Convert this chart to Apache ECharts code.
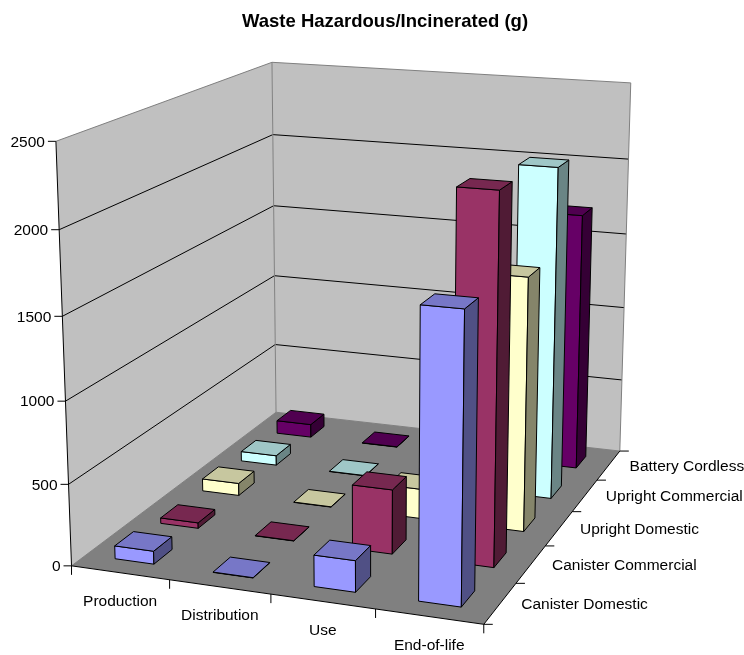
<!DOCTYPE html>
<html><head><meta charset="utf-8">
<style>html,body{margin:0;padding:0;background:#fff}#c{width:744px;height:655px}</style>
<script src="https://cdn.jsdelivr.net/npm/echarts@6/dist/echarts.min.js"></script>
</head><body><div id="c"></div>
<script>
const stages = ['Production','Distribution','Use','End-of-life'];
const products = ['Canister Domestic','Canister Commercial','Upright Domestic','Upright Commercial','Battery Cordless'];
const valueTicks = [0,500,1000,1500,2000,2500];
const canisterDomestic   = [80, 2, 190, 1710];
const canisterCommercial = [35, 2, 400, 2235];
const uprightDomestic    = [80, 2, 190, 1590];
const uprightCommercial  = [65, 2, 100, 2130];
const batteryCordless    = [90, 2, 100, 1700];
const seriesValues = [canisterDomestic, canisterCommercial, uprightDomestic, uprightCommercial, batteryCordless];
const frontColors = ['#9999FF','#993366','#FFFFCC','#CCFFFF','#660066'];

// Perspective camera fitted to the box of the plot: [u, v, w] -> [px, py]
const calib = [
 [0,0,0,72,566],[1,0,0,484,624],[0,1,0,277,412],[1,1,0,620,451],
 [0,0,1,56,141],[0,1,1,272,62],[1,1,1,632,84],
 [0,0,.8,59,230],[0,0,.6,63,316],[0,0,.4,66,400],[0,0,.2,68,485],
 [0,1,.8,272,135],[0,1,.6,273,206],[1,1,.8,628,159],[1,1,.6,626,233],
 [.25,0,0,169,580],[.5,0,0,271,595],[.75,0,0,375,609],
 [1,.2,0,516,583],[1,.4,0,545,546],[1,.6,0,572,512],[1,.8,0,597,480]
];
function fit(pts){
  const n=11, A=Array.from({length:n},()=>new Array(n+1).fill(0));
  const add=(r,b)=>{for(let i=0;i<n;i++){for(let j=0;j<n;j++)A[i][j]+=r[i]*r[j];A[i][n]+=r[i]*b;}};
  pts.forEach(p=>{const [u,v,w,x0,y0]=p,x=x0/500,y=y0/500;
    add([u,v,w,1,0,0,0,0,-x*u,-x*v,-x*w],x);
    add([0,0,0,0,u,v,w,1,-y*u,-y*v,-y*w],y);});
  for(let c=0;c<n;c++){let m=c;for(let r=c+1;r<n;r++)if(Math.abs(A[r][c])>Math.abs(A[m][c]))m=r;
    [A[c],A[m]]=[A[m],A[c]];
    for(let r=0;r<n;r++){if(r===c)continue;const f=A[r][c]/A[c][c];for(let k=c;k<=n;k++)A[r][k]-=f*A[c][k];}}
  return A.map((r,i)=>r[n]/r[i]);
}
const M=fit(calib);
function P(u,v,w){const d=M[8]*u+M[9]*v+M[10]*w+1;
  return [500*(M[0]*u+M[1]*v+M[2]*w+M[3])/d,500*(M[4]*u+M[5]*v+M[6]*w+M[7])/d];}

const poly=(pts,fill,stroke)=>({type:'polygon',shape:{points:pts},style:{fill:fill,stroke:stroke||null,lineWidth:1}});
const line=(a,b,c)=>({type:'line',shape:{x1:a[0],y1:a[1],x2:b[0],y2:b[1]},style:{stroke:c||'#000',lineWidth:1}});
const FONT='15.5px "Liberation Sans", Arial, sans-serif';
const label=(s,x,y,align)=>({type:'text',x:x,y:y,style:{text:s,font:FONT,fill:'#000',align:align,verticalAlign:'middle'}});

function renderFrame(params,api){
  const ch=[];
  const wallC='#C0C0C0',edge='#808080';
  ch.push(poly([P(0,0,0),P(0,1,0),P(0,1,1),P(0,0,1)],wallC));
  ch.push(poly([P(0,1,0),P(1,1,0),P(1,1,1),P(0,1,1)],wallC));
  ch.push(poly([P(0,0,0),P(1,0,0),P(1,1,0),P(0,1,0)],'#808080'));
  const maxV=valueTicks[valueTicks.length-1];
  valueTicks.forEach(t=>{
    const w=t/maxV;
    const c=(t===0||t===maxV)?edge:'#000';
    if(t>0){ch.push(line(P(0,0,w),P(0,1,w),c));ch.push(line(P(0,1,w),P(1,1,w),c));}
    const a=P(0,0,w);
    ch.push(line([a[0]-8,a[1]],a,'#000'));
    ch.push(label(String(t),a[0]-11,a[1]+1,'right'));
  });
  ch.push(line(P(0,1,0),P(0,1,1),edge));
  ch.push(line(P(1,1,0),P(1,1,1),edge));
  ch.push(line(P(0,0,0),P(0,1,0),edge));
  ch.push(line(P(0,1,0),P(1,1,0),edge));
  ch.push(line(P(0,0,0),P(0,0,1),'#000'));
  ch.push(line(P(0,0,0),P(1,0,0),'#000'));
  ch.push(line(P(1,0,0),P(1,1,0),'#000'));
  for(let i=0;i<=stages.length;i++){
    const a=P(i/stages.length,0,0);
    ch.push(line(a,[a[0],a[1]+9],'#000'));
    if(i<stages.length){const m=P((i+.5)/stages.length,0,0);ch.push(label(stages[i],m[0],m[1]+29,'center'));}
  }
  for(let i=0;i<=products.length;i++){
    const a=P(1,i/products.length,0);
    ch.push(line(a,[a[0]+9,a[1]],'#000'));
    if(i<products.length){const m=P(1,(i+.5)/products.length,0);ch.push(label(products[i],m[0]+21,m[1]+1.5,'left'));}
  }
  return {type:'group',children:ch};
}

function shade(hex,f){const n=parseInt(hex.slice(1),16);
  return 'rgb('+[(n>>16)&255,(n>>8)&255,n&255].map(c=>Math.round(c*f)).join(',')+')';}
const BAR=0.4;
function makeBar(row,color){
  return function(params,api){
    const cat=api.value(0),val=api.value(1);
    const pt=api.coord([cat,val]);           // grid fills the whole canvas: pixel -> fraction
    const cs=params.coordSys;
    const uc=(pt[0]-cs.x)/cs.width, w=1-(pt[1]-cs.y)/cs.height;
    const du=BAR/stages.length/2, dv=BAR/products.length/2, vc=(row+.5)/products.length;
    const u0=uc-du,u1=uc+du,v0=vc-dv,v1=vc+dv;
    return {type:'group',children:[
      poly([P(u0,v0,0),P(u1,v0,0),P(u1,v0,w),P(u0,v0,w)],color,'#000'),
      poly([P(u1,v0,0),P(u1,v1,0),P(u1,v1,w),P(u1,v0,w)],shade(color,.52),'#000'),
      poly([P(u0,v0,w),P(u1,v0,w),P(u1,v1,w),P(u0,v1,w)],shade(color,.78),'#000')
    ]};
  };
}
const series=[{type:'custom',name:'frame',silent:true,clip:false,renderItem:renderFrame,data:[[0,0]],encode:{x:0,y:1}}];
for(let r=products.length-1;r>=0;r--){
  series.push({type:'custom',name:products[r],clip:false,renderItem:makeBar(r,frontColors[r]),
    data:seriesValues[r].map((v,i)=>[i,v]),encode:{x:0,y:1}});
}
const chart=echarts.init(document.getElementById('c'),null,{renderer:'canvas'});
chart.setOption({
  animation:false,backgroundColor:'#fff',
  title:{text:'Waste Hazardous/Incinerated (g)',left:380,top:7,textAlign:'center',
    textStyle:{fontFamily:'"Liberation Sans", Arial, sans-serif',fontSize:18.5,fontWeight:'bold',color:'#000'}},
  grid:{left:0,right:0,top:0,bottom:0},
  xAxis:{type:'category',data:stages,show:false},
  yAxis:{type:'value',min:0,max:2500,interval:500,show:false},
  series:series
});
</script></body></html>
